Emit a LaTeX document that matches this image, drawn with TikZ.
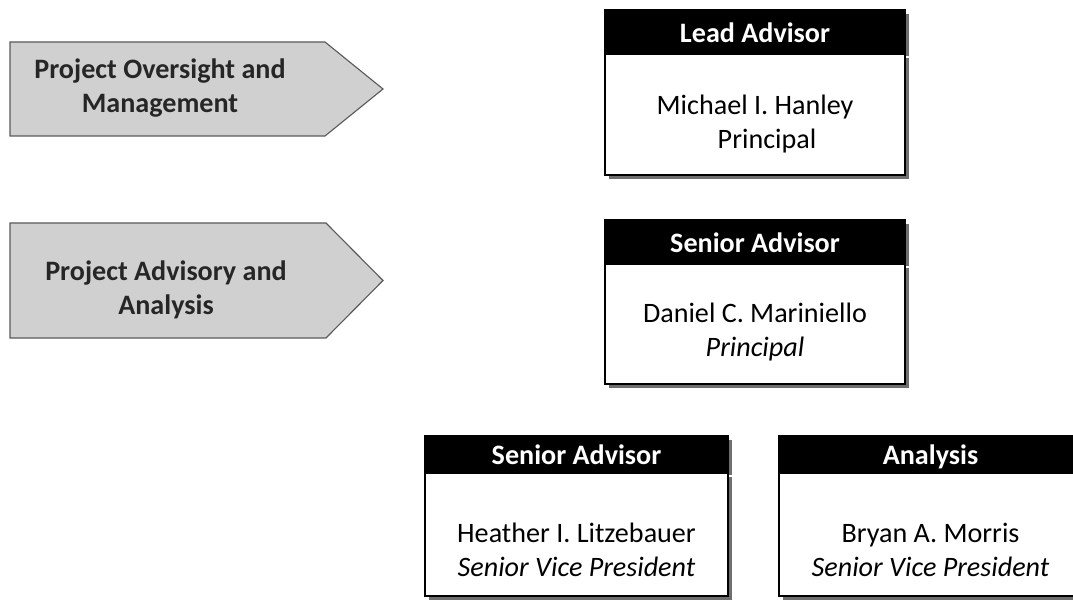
\documentclass[tikz,border=0pt]{standalone}
\usepackage{fontspec}
\setmainfont{Carlito}
\usepackage{tikz}
\usetikzlibrary{positioning, shadows}

\definecolor{phasegray}{RGB}{208, 208, 208}
\definecolor{phaseline}{RGB}{90, 90, 90}
\definecolor{shadowgray}{RGB}{110, 110, 110}

\tikzset{
  phase/.style={draw=phaseline, fill=phasegray, line width=0.8pt},
  phasetext/.style={align=center, font=\fontsize{20}{24}\selectfont\bfseries, text=black!85},
  rolehead/.style={draw=black, fill=black, text=white, line width=1.2pt, inner sep=0pt, text height=19pt, text depth=3pt, font=\fontsize{20}{24}\selectfont\bfseries, drop shadow={shadow xshift=3pt, shadow yshift=-3pt, fill=shadowgray, opacity=1}},
  rolebody/.style={draw=black, fill=white, line width=1.2pt, inner sep=0pt, drop shadow={shadow xshift=3pt, shadow yshift=-3pt, fill=shadowgray, opacity=1}},
  person/.style={align=center, font=\fontsize{20}{24}\selectfont}
}

\begin{document}
\begin{tikzpicture}
  \useasboundingbox (0, 0) rectangle (26.825, -15.075);
  \clip (0, 0) rectangle (26.825, -15.075);

  % Phases
  \draw[phase] (0.25, -1.05) -- (8.125, -1.05) -- (9.575, -2.225) -- (8.125, -3.4) -- (0.25, -3.4) -- cycle;
  \node[phasetext] (oversight) at (4.0, -2.2) {Project Oversight and\\Management};

  \draw[phase] (0.25, -5.575) -- (8.15, -5.575) -- (9.575, -7.0125) -- (8.15, -8.45) -- (0.25, -8.45) -- cycle;
  \node[phasetext] (advisory) at (4.15, -7.24) {Project Advisory and\\Analysis};

  % Lead advisor
  \node[rolehead, minimum width=7.5cm, minimum height=1.05cm] (leadhead) at (18.875, -0.775) {Lead Advisor};
  \node[rolebody, minimum width=7.5cm, minimum height=3.025cm, below=0pt of leadhead] (leadbody) {};
  \node[person] (hanley) at (18.875, -3.1) {Michael I. Hanley\\\hspace*{0.6cm}Principal};

  % Senior advisor
  \node[rolehead, minimum width=7.5cm, minimum height=1.05cm] (seniorhead) at (18.875, -6.025) {Senior Advisor};
  \node[rolebody, minimum width=7.5cm, minimum height=3.0cm, below=0pt of seniorhead] (seniorbody) {};
  \node[person] (mariniello) at (18.875, -8.3) {Daniel C. Mariniello\\\textit{Principal}};

  % Second row
  \node[rolehead, minimum width=7.575cm, minimum height=0.875cm] (advisorhead) at (14.4125, -11.3375) {Senior Advisor};
  \node[rolebody, minimum width=7.575cm, minimum height=3.075cm, below=0pt of advisorhead] (advisorbody) {};
  \node[person] (litzebauer) at (14.4125, -13.75) {Heather I. Litzebauer\\\textit{Senior Vice President}};

  \node[rolehead, minimum width=7.575cm, minimum height=0.875cm] (analysishead) at (23.2625, -11.3375) {Analysis};
  \node[rolebody, minimum width=7.575cm, minimum height=3.075cm, below=0pt of analysishead] (analysisbody) {};
  \node[person] (morris) at (23.2625, -13.75) {Bryan A. Morris\\\textit{Senior Vice President}};
\end{tikzpicture}
\end{document}
